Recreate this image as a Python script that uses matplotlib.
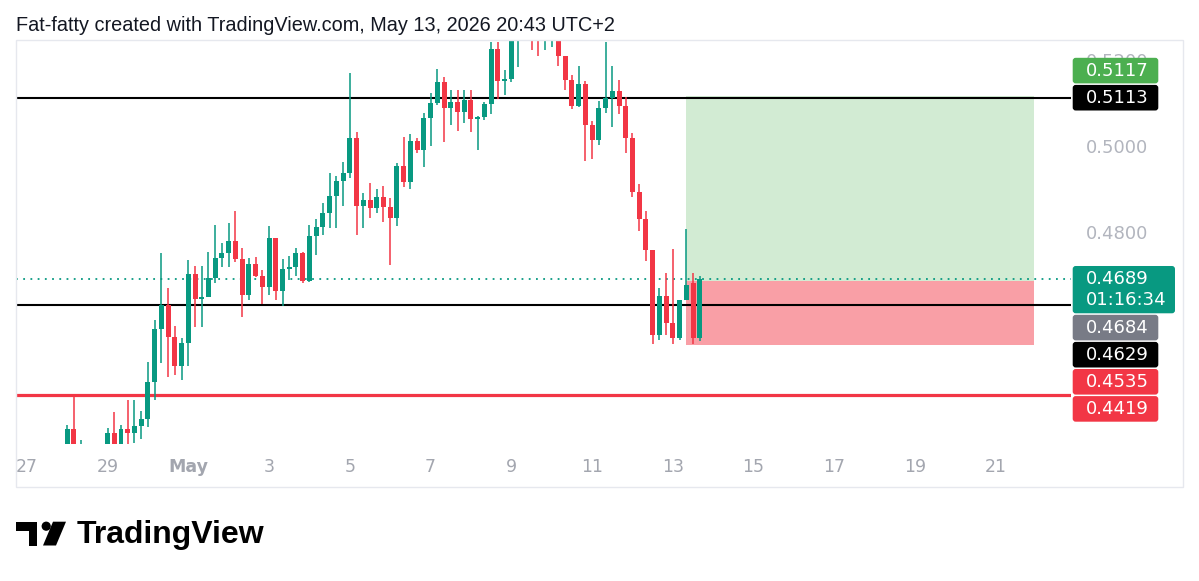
import numpy as np
import matplotlib
matplotlib.use("Agg")
import matplotlib.pyplot as plt
from matplotlib.patches import Rectangle, Circle, Polygon, FancyBboxPatch

# ---------------- data ----------------
candles_per_day = 6          # 4h candles
first_candle = -18           # offset of first candle relative to May 1 00:00

opens = [0.4297, 0.4339, 0.4286, 0.4300, 0.4276, 0.4293, 0.4295, 0.4331, 0.4295, 0.4339,
         0.4331, 0.4346, 0.4363, 0.4450, 0.4573, 0.4628, 0.4555, 0.4487, 0.4541, 0.4701,
         0.4642, 0.4648, 0.4693, 0.4739, 0.4751, 0.4778, 0.4736, 0.4652, 0.4725, 0.4697,
         0.4670, 0.4785, 0.4662, 0.4713, 0.4718, 0.4750, 0.4685, 0.4790, 0.4811, 0.4843,
         0.4883, 0.4919, 0.4938, 0.5018, 0.4859, 0.4874, 0.4855, 0.4880, 0.4857, 0.4831,
         0.4954, 0.4917, 0.5013, 0.4991, 0.5065, 0.5100, 0.5150, 0.5088, 0.5102, 0.5080,
         0.5108, 0.5064, 0.5067, 0.5098, 0.5226, 0.5153, 0.5157, 0.5248, 0.5266, 0.5283,
         0.5257, 0.5248, 0.5252, 0.5262, 0.5210, 0.5155, 0.5093, 0.5145, 0.5050, 0.5015,
         0.5089, 0.5112, 0.5129, 0.5093, 0.5019, 0.4893, 0.4830, 0.4758, 0.4560, 0.4649,
         0.4587, 0.4552, 0.4641, 0.4680, 0.4552]
highs = [0.4349, 0.4419, 0.4314, 0.4302, 0.4302, 0.4300, 0.4342, 0.4378, 0.4349, 0.4407,
         0.4407, 0.4382, 0.4497, 0.4594, 0.4751, 0.4669, 0.4580, 0.4552, 0.4734, 0.4720,
         0.4720, 0.4753, 0.4815, 0.4774, 0.4821, 0.4848, 0.4763, 0.4739, 0.4741, 0.4711,
         0.4813, 0.4786, 0.4736, 0.4743, 0.4762, 0.4753, 0.4816, 0.4830, 0.4867, 0.4937,
         0.4930, 0.4964, 0.5170, 0.5034, 0.4890, 0.4913, 0.4901, 0.4907, 0.4878, 0.4961,
         0.5021, 0.5028, 0.5018, 0.5078, 0.5125, 0.5179, 0.5161, 0.5130, 0.5131, 0.5130,
         0.5130, 0.5071, 0.5102, 0.5242, 0.5242, 0.5178, 0.5271, 0.5283, 0.5299, 0.5294,
         0.5271, 0.5276, 0.5280, 0.5271, 0.5211, 0.5165, 0.5186, 0.5151, 0.5058, 0.5106,
         0.5243, 0.5186, 0.5155, 0.5114, 0.5031, 0.4912, 0.4849, 0.4758, 0.4669, 0.4704,
         0.4760, 0.4641, 0.4807, 0.4704, 0.4697]
lows = [0.4290, 0.4290, 0.4279, 0.4272, 0.4267, 0.4276, 0.4286, 0.4290, 0.4290, 0.4304,
        0.4307, 0.4316, 0.4345, 0.4407, 0.4494, 0.4462, 0.4466, 0.4454, 0.4487, 0.4578,
        0.4578, 0.4648, 0.4680, 0.4718, 0.4718, 0.4729, 0.4600, 0.4641, 0.4694, 0.4631,
        0.4652, 0.4641, 0.4627, 0.4687, 0.4697, 0.4680, 0.4683, 0.4746, 0.4792, 0.4809,
        0.4809, 0.4859, 0.4925, 0.4792, 0.4809, 0.4832, 0.4843, 0.4823, 0.4722, 0.4813,
        0.4904, 0.4899, 0.4985, 0.4952, 0.5000, 0.5096, 0.5010, 0.5049, 0.5035, 0.5054,
        0.5033, 0.4990, 0.5061, 0.5075, 0.5111, 0.5119, 0.5150, 0.5184, 0.5250, 0.5225,
        0.5210, 0.5225, 0.5231, 0.5186, 0.5132, 0.5087, 0.5092, 0.4965, 0.4971, 0.5003,
        0.5077, 0.5044, 0.5075, 0.4984, 0.4880, 0.4802, 0.4732, 0.4538, 0.4548, 0.4560,
        0.4538, 0.4548, 0.4641, 0.4538, 0.4544]
closes = [0.4339, 0.4297, 0.4300, 0.4286, 0.4293, 0.4286, 0.4331, 0.4295, 0.4339, 0.4331,
          0.4346, 0.4363, 0.4450, 0.4573, 0.4628, 0.4555, 0.4487, 0.4541, 0.4701, 0.4642,
          0.4648, 0.4693, 0.4739, 0.4751, 0.4778, 0.4736, 0.4652, 0.4725, 0.4697, 0.4670,
          0.4785, 0.4662, 0.4713, 0.4718, 0.4750, 0.4685, 0.4790, 0.4811, 0.4843, 0.4883,
          0.4919, 0.4938, 0.5018, 0.4859, 0.4874, 0.4855, 0.4880, 0.4857, 0.4831, 0.4954,
          0.4917, 0.5013, 0.4991, 0.5065, 0.5100, 0.5150, 0.5088, 0.5102, 0.5080, 0.5108,
          0.5064, 0.5069, 0.5098, 0.5226, 0.5153, 0.5157, 0.5252, 0.5266, 0.5283, 0.5250,
          0.5248, 0.5262, 0.5264, 0.5210, 0.5155, 0.5093, 0.5145, 0.5050, 0.5015, 0.5089,
          0.5112, 0.5129, 0.5093, 0.5019, 0.4893, 0.4830, 0.4758, 0.4560, 0.4649, 0.4587,
          0.4552, 0.4641, 0.4676, 0.4552, 0.4689]

date_labels = ["27", "29", "May", "3", "5", "7", "9", "11", "13", "15", "17", "19", "21"]
date_day_offsets = [-4, -2, 0, 2, 4, 6, 8, 10, 12, 14, 16, 18, 20]

# only the scale labels that are not hidden behind the price labels
price_ticks = [0.48, 0.50, 0.52]

resistance_level = 0.5113
support_level = 0.4629
low_level = 0.4419
last_price = 0.4689
countdown = "01:16:34"

position_target = 0.5117
position_entry = 0.4684
position_stop = 0.4535
position_start = 74        # candle index where the position tool starts
position_end = 125.7       # candle index where it ends

title = "Fat-fatty created with TradingView.com, May 13, 2026 20:43 UTC+2"

# ---------------- styling ----------------
GREEN = "#089981"
RED = "#f23645"
AXIS_GRAY = "#b2b5be"
W, H = 1199, 581

fig = plt.figure(figsize=(W / 100, H / 100), dpi=100)
fig.patch.set_facecolor("white")

pane_left, pane_right, pane_top, pane_bottom = 16, 1071, 41, 443.5
ax = fig.add_axes([pane_left / W, 1 - pane_bottom / H,
                   (pane_right - pane_left) / W, (pane_bottom - pane_top) / H])
ax.set_facecolor("white")
for s in ax.spines.values():
    s.set_visible(False)

x = np.arange(len(opens)) + first_candle
o = np.array(opens); c = np.array(closes)
hi = np.array(highs); lo = np.array(lows)
up = c >= o
colors = np.where(up, GREEN, RED)

px_per_candle = 6.73
x_left = (pane_left - 188.3) / px_per_candle
x_right = (pane_right - 188.3) / px_per_candle
ax.set_xlim(x_left, x_right)
ax.set_ylim(0.43056, 0.52454)

# position tool
ax.add_patch(Rectangle((position_start, position_entry), position_end - position_start,
                       position_target - position_entry, facecolor="#d2ebd3",
                       edgecolor="none", zorder=1))
ax.add_patch(Rectangle((position_start, position_stop), position_end - position_start,
                       position_entry - position_stop, facecolor="#f99fa6",
                       edgecolor="none", zorder=1))

# horizontal levels
ax.axhline(resistance_level, color="#000000", lw=1.5, zorder=4)
ax.axhline(support_level, color="#000000", lw=1.5, zorder=4)
ax.axhline(low_level, color=RED, lw=2.3, zorder=4)
ax.axhline(last_price, color=GREEN, lw=1.3, ls=(0, (1, 3)), zorder=4)

# candles
ax.vlines(x, lo, hi, colors=colors, lw=1.1, zorder=5)
body_h = np.maximum(np.abs(c - o), 0.00008)
ax.bar(x, body_h, bottom=np.minimum(o, c), width=0.74, color=colors,
       edgecolor="none", zorder=6)

# axes ticks
ax.set_xticks(np.array(date_day_offsets) * candles_per_day)
ax.set_xticklabels(date_labels)
ax.tick_params(axis="x", length=0, pad=10.5, labelsize=12.5, labelcolor="#a3a6af")
for lbl in ax.get_xticklabels():
    if lbl.get_text() == "May":
        lbl.set_fontweight("bold")
ax.yaxis.tick_right()
ax.set_yticks(price_ticks)
ax.set_yticklabels([f"{p:.4f}" for p in price_ticks])
ax.tick_params(axis="y", length=0, pad=11, labelsize=13, labelcolor=AXIS_GRAY)
for lbl in ax.get_yticklabels():
    lbl.set_horizontalalignment("left")

# ---------------- overlay (pixel coordinates) ----------------
ov = fig.add_axes([0, 0, 1, 1], zorder=10)
ov.set_xlim(0, W); ov.set_ylim(H, 0); ov.axis("off")
ov.patch.set_alpha(0)

# frame
ov.add_patch(Rectangle((16, 40), 1183 - 16, 487 - 40, facecolor="none",
                       edgecolor="#e6e8ee", lw=1.0))

def ypix(price):
    return H - ax.transData.transform((0, price))[1]

box_left, box_w, box_h, gap = 1072.7, 85.6, 25.6, 1.5
text_x = 1086
LBL_FS = 13

def label_box(top, h, w, color):
    ov.add_patch(FancyBboxPatch((box_left, top), w, h,
                                boxstyle="round,pad=0,rounding_size=3",
                                facecolor=color, edgecolor="none"))

# top group: 0.5113 anchored, 0.5117 stacked above
t_black = ypix(resistance_level) - box_h / 2
t_green = t_black - gap - box_h
label_box(t_green, box_h, box_w, "#4caf50")
ov.text(text_x, t_green + box_h / 2, f"{position_target:.4f}", color="white",
        fontsize=LBL_FS, va="center", ha="left")
label_box(t_black, box_h, box_w, "#000000")
ov.text(text_x, t_black + box_h / 2, f"{resistance_level:.4f}", color="white",
        fontsize=LBL_FS, va="center", ha="left")

# bottom group: last price anchored, the rest stacked below
t_last = ypix(last_price) - 13.3
h_last = 47.3
label_box(t_last, h_last, 102.3, GREEN)
ov.text(text_x, t_last + 13.5, f"{last_price:.4f}", color="white",
        fontsize=LBL_FS, va="center", ha="left")
ov.text(text_x, t_last + 34.5, countdown, color="white",
        fontsize=LBL_FS, va="center", ha="left")
prev_bottom = t_last + h_last
for price, col in [(position_entry, "#787b86"), (support_level, "#000000"),
                   (position_stop, RED), (low_level, RED)]:
    t = max(ypix(price) - box_h / 2, prev_bottom + gap)
    label_box(t, box_h, box_w, col)
    ov.text(text_x, t + box_h / 2, f"{price:.4f}", color="white",
            fontsize=LBL_FS, va="center", ha="left")
    prev_bottom = t + box_h

# title
ov.text(16, 25.5, title, fontsize=14.3, color="#131722", va="center", ha="left",
        family="Liberation Sans")

# TradingView logo
ov.add_patch(Polygon([(16, 521.7), (37, 521.7), (37, 545.5), (28.5, 545.5),
                      (28.5, 530.5), (16, 530.5)], closed=True, facecolor="#000000",
                     edgecolor="none"))
ov.add_patch(Circle((46.2, 526.2), 4.6, facecolor="#000000", edgecolor="none"))
ov.add_patch(Polygon([(53, 521.7), (66, 521.7), (56, 545.5), (43, 545.5)],
                     closed=True, facecolor="#000000", edgecolor="none"))
ov.text(77, 543.5, "TradingView", fontsize=23, fontweight="bold", color="#000000",
        va="baseline", ha="left", family="Liberation Sans")

fig.savefig("out.png", dpi=100, facecolor="white")
